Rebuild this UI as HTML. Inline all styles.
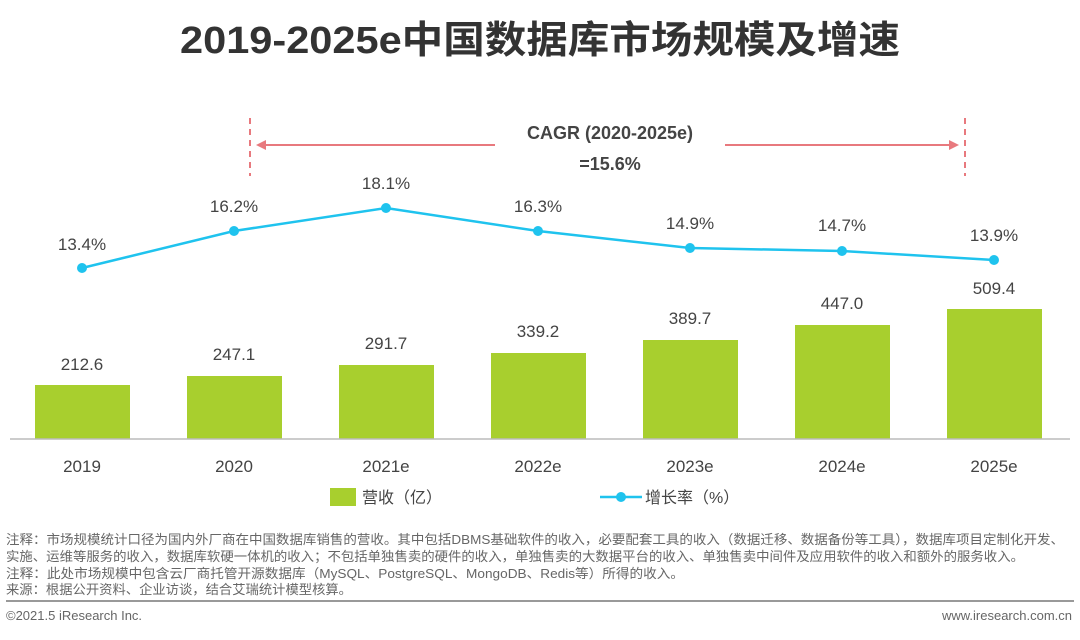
<!DOCTYPE html>
<html><head><meta charset="utf-8"><style>
body{margin:0;background:#fff;}
svg text{font-family:"Liberation Sans","Noto Sans CJK SC",sans-serif;}
</style></head><body>
<svg width="1080" height="635" viewBox="0 0 1080 635" xmlns="http://www.w3.org/2000/svg">
<text x="180" y="53" font-size="38" font-weight="bold" fill="#333" textLength="720" lengthAdjust="spacingAndGlyphs">2019-2025e中国数据库市场规模及增速</text>
<g stroke="#e8797e" stroke-width="2">
<line x1="250" y1="118" x2="250" y2="176" stroke-dasharray="6,5"/>
<line x1="965" y1="118" x2="965" y2="176" stroke-dasharray="6,5"/>
<line x1="260" y1="145" x2="495" y2="145"/>
<line x1="725" y1="145" x2="955" y2="145"/>
</g>
<polygon points="256,145 266,140 266,150" fill="#e8797e"/>
<polygon points="959,145 949,140 949,150" fill="#e8797e"/>
<text x="610" y="139" text-anchor="middle" font-size="18" font-weight="bold" fill="#444">CAGR (2020-2025e)</text>
<text x="610" y="170" text-anchor="middle" font-size="18" font-weight="bold" fill="#444">=15.6%</text>
<g fill="#a8cf2e">
<rect x="35" y="385" width="95" height="54"/>
<rect x="187" y="376" width="95" height="63"/>
<rect x="339" y="365" width="95" height="74"/>
<rect x="491" y="353" width="95" height="86"/>
<rect x="643" y="340" width="95" height="99"/>
<rect x="795" y="325" width="95" height="114"/>
<rect x="947" y="309" width="95" height="130"/>
</g>
<line x1="10" y1="439" x2="1070" y2="439" stroke="#bbb" stroke-width="1.5"/>
<g font-size="17" fill="#444" text-anchor="middle">
<text x="82" y="370">212.6</text><text x="234" y="360">247.1</text><text x="386" y="349">291.7</text>
<text x="538" y="337">339.2</text><text x="690" y="324">389.7</text><text x="842" y="309">447.0</text><text x="994" y="294">509.4</text>
<text x="82" y="250">13.4%</text><text x="234" y="212">16.2%</text><text x="386" y="189">18.1%</text>
<text x="538" y="212">16.3%</text><text x="690" y="229">14.9%</text><text x="842" y="231">14.7%</text><text x="994" y="241">13.9%</text>
<text x="82" y="472">2019</text><text x="234" y="472">2020</text><text x="386" y="472">2021e</text>
<text x="538" y="472">2022e</text><text x="690" y="472">2023e</text><text x="842" y="472">2024e</text><text x="994" y="472">2025e</text>
</g>
<polyline points="82,268 234,231 386,208 538,231 690,248 842,251 994,260" fill="none" stroke="#1fc3ee" stroke-width="2.5"/>
<g fill="#1fc3ee">
<circle cx="82" cy="268" r="5"/><circle cx="234" cy="231" r="5"/><circle cx="386" cy="208" r="5"/>
<circle cx="538" cy="231" r="5"/><circle cx="690" cy="248" r="5"/><circle cx="842" cy="251" r="5"/><circle cx="994" cy="260" r="5"/>
</g>
<rect x="330" y="488" width="26" height="18" fill="#a8cf2e"/>
<text x="362" y="503" font-size="16" fill="#444">营收（亿）</text>
<line x1="600" y1="497" x2="642" y2="497" stroke="#1fc3ee" stroke-width="2.5"/>
<circle cx="621" cy="497" r="5" fill="#1fc3ee"/>
<text x="645" y="503" font-size="16" fill="#444">增长率（%）</text>
<g font-size="13" fill="#666">
<text x="6" y="544" textLength="1058" lengthAdjust="spacingAndGlyphs">注释：市场规模统计口径为国内外厂商在中国数据库销售的营收。其中包括DBMS基础软件的收入，必要配套工具的收入（数据迁移、数据备份等工具），数据库项目定制化开发、</text>
<text x="6" y="561" textLength="1018" lengthAdjust="spacingAndGlyphs">实施、运维等服务的收入，数据库软硬一体机的收入；不包括单独售卖的硬件的收入，单独售卖的大数据平台的收入、单独售卖中间件及应用软件的收入和额外的服务收入。</text>
<text x="6" y="578" textLength="678" lengthAdjust="spacingAndGlyphs">注释：此处市场规模中包含云厂商托管开源数据库（MySQL、PostgreSQL、MongoDB、Redis等）所得的收入。</text>
<text x="6" y="594" textLength="346" lengthAdjust="spacingAndGlyphs">来源：根据公开资料、企业访谈，结合艾瑞统计模型核算。</text>
<text x="6" y="620">©2021.5 iResearch Inc.</text>
<text x="1072" y="620" text-anchor="end">www.iresearch.com.cn</text>
</g>
<line x1="6" y1="601" x2="1074" y2="601" stroke="#999" stroke-width="2"/>
</svg>
</body></html>
